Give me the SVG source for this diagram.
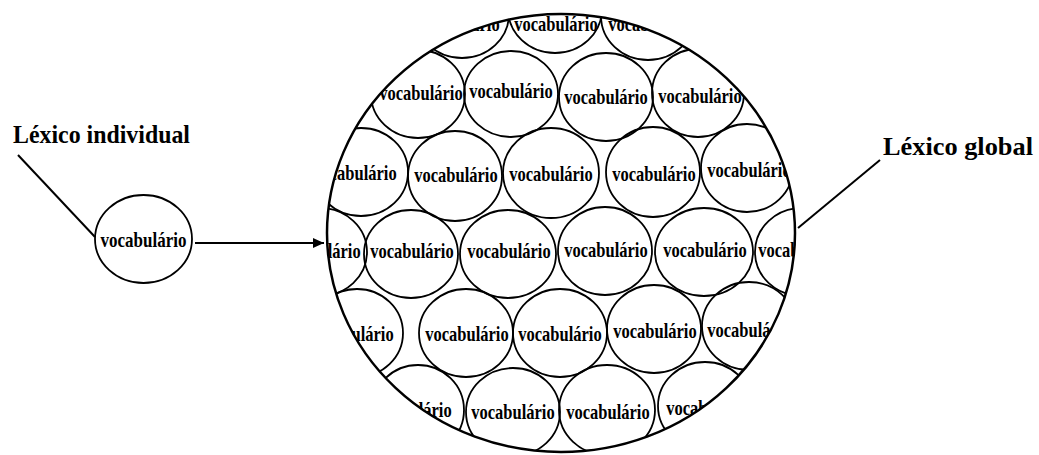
<svg xmlns="http://www.w3.org/2000/svg" width="1039" height="455" viewBox="0 0 1039 455">
<style>
.c{fill:none;stroke:#000;stroke-width:1.8}
.t{font-family:"Liberation Serif","Times New Roman",serif;font-weight:bold;font-size:16.5px;fill:#000;text-anchor:middle}
.lbl{font-family:"Liberation Serif","Times New Roman",serif;font-weight:bold;fill:#000}
.ln{stroke:#000;stroke-width:2;fill:none}
</style>
<defs>
<clipPath id="big"><ellipse cx="561" cy="233" rx="234" ry="219"/></clipPath>
<marker id="ah" markerWidth="12" markerHeight="10" refX="11" refY="5" orient="auto" markerUnits="userSpaceOnUse"><path d="M0,0 L11,5 L0,10 Z" fill="#000"/></marker>
</defs>
<rect width="1039" height="455" fill="#fff"/>

<g id="label-individual"><text class="lbl" x="13" y="143" font-size="25" textLength="177" lengthAdjust="spacingAndGlyphs">Léxico individual</text></g>
<g id="label-global"><text class="lbl" x="883" y="155" font-size="26" textLength="150" lengthAdjust="spacingAndGlyphs">Léxico global</text></g>

<g id="node-individual">
<ellipse class="c" cx="143.5" cy="239" rx="48.5" ry="44"/>
<text class="t" transform="translate(143.5,247) scale(1.03,1.27)">vocabulário</text>
</g>

<g id="node-global">
<g clip-path="url(#big)">
<g id="r1c1"><ellipse class="c" cx="462" cy="14" rx="47" ry="44"/><text class="t" transform="translate(458,31) scale(1,1.27)">vocabulário</text></g>
<g id="r1c2"><ellipse class="c" cx="555" cy="9" rx="47" ry="44"/><text class="t" transform="translate(556,31) scale(1,1.27)">vocabulário</text></g>
<g id="r1c3"><ellipse class="c" cx="648" cy="16" rx="47" ry="44"/><text class="t" transform="translate(650,31) scale(1,1.27)">vocabulário</text></g>

<g id="r2c1"><ellipse class="c" cx="418" cy="94" rx="47" ry="44"/><text class="t" transform="translate(421,100) scale(1,1.27)">vocabulário</text></g>
<g id="r2c2"><ellipse class="c" cx="511" cy="94" rx="47" ry="43"/><text class="t" transform="translate(511,98) scale(1,1.27)">vocabulário</text></g>
<g id="r2c3"><ellipse class="c" cx="606" cy="97" rx="47" ry="44"/><text class="t" transform="translate(606,104) scale(1,1.27)">vocabulário</text></g>
<g id="r2c4"><ellipse class="c" cx="698" cy="93" rx="46" ry="44"/><text class="t" transform="translate(700,103) scale(1,1.27)">vocabulário</text></g>

<g id="r3c1"><ellipse class="c" cx="361" cy="172" rx="47" ry="44"/><text class="t" transform="translate(355,180) scale(1,1.27)">vocabulário</text></g>
<g id="r3c2"><ellipse class="c" cx="455" cy="176" rx="47" ry="45"/><text class="t" transform="translate(456,182) scale(1,1.27)">vocabulário</text></g>
<g id="r3c3"><ellipse class="c" cx="551" cy="173" rx="48" ry="45"/><text class="t" transform="translate(551,181) scale(1,1.27)">vocabulário</text></g>
<g id="r3c4"><ellipse class="c" cx="653" cy="172" rx="47" ry="45"/><text class="t" transform="translate(654,181) scale(1,1.27)">vocabulário</text></g>
<g id="r3c5"><ellipse class="c" cx="747" cy="168" rx="46" ry="44"/><text class="t" transform="translate(749,177) scale(1,1.27)">vocabulário</text></g>

<g id="r4c1"><ellipse class="c" cx="320" cy="252" rx="47" ry="44"/><text class="t" transform="translate(319,258) scale(1,1.27)">vocabulário</text></g>
<g id="r4c2"><ellipse class="c" cx="411" cy="254" rx="47" ry="44"/><text class="t" transform="translate(412,258) scale(1,1.27)">vocabulário</text></g>
<g id="r4c3"><ellipse class="c" cx="508" cy="254" rx="48" ry="44"/><text class="t" transform="translate(509,258) scale(1,1.27)">vocabulário</text></g>
<g id="r4c4"><ellipse class="c" cx="605" cy="251" rx="47" ry="44"/><text class="t" transform="translate(606,257) scale(1,1.27)">vocabulário</text></g>
<g id="r4c5"><ellipse class="c" cx="704" cy="252" rx="49" ry="44"/><text class="t" transform="translate(705,257) scale(1,1.27)">vocabulário</text></g>
<g id="r4c6"><ellipse class="c" cx="802" cy="252" rx="47" ry="44"/><text class="t" transform="translate(800,257) scale(1,1.27)">vocabulário</text></g>

<g id="r5c1"><ellipse class="c" cx="357" cy="333" rx="46" ry="44"/><text class="t" transform="translate(352,341) scale(1,1.27)">vocabulário</text></g>
<g id="r5c2"><ellipse class="c" cx="466" cy="333" rx="47" ry="44"/><text class="t" transform="translate(467,341) scale(1,1.27)">vocabulário</text></g>
<g id="r5c3"><ellipse class="c" cx="560" cy="333" rx="47" ry="44"/><text class="t" transform="translate(560,341) scale(1,1.27)">vocabulário</text></g>
<g id="r5c4"><ellipse class="c" cx="654" cy="329" rx="47" ry="44"/><text class="t" transform="translate(655,338) scale(1,1.27)">vocabulário</text></g>
<g id="r5c5"><ellipse class="c" cx="749" cy="326" rx="47" ry="44"/><text class="t" transform="translate(749,337) scale(1,1.27)">vocabulário</text></g>

<g id="r6c1"><ellipse class="c" cx="418" cy="410" rx="46" ry="45"/><text class="t" transform="translate(410,417) scale(1,1.27)">vocabulário</text></g>
<g id="r6c2"><ellipse class="c" cx="513" cy="412" rx="47" ry="44"/><text class="t" transform="translate(513,419) scale(1,1.27)">vocabulário</text></g>
<g id="r6c3"><ellipse class="c" cx="607" cy="410" rx="48" ry="45"/><text class="t" transform="translate(608,419) scale(1,1.27)">vocabulário</text></g>
<g id="r6c4"><ellipse class="c" cx="705" cy="406" rx="47" ry="44"/><text class="t" transform="translate(708,415) scale(1,1.27)">vocabulário</text></g>
</g>
<ellipse cx="561" cy="233" rx="234" ry="219" fill="none" stroke="#000" stroke-width="2.5"/>
</g>

<g id="connectors">
<line class="ln" x1="18" y1="155" x2="95" y2="237"/>
<line class="ln" x1="880" y1="160" x2="798" y2="228"/>
<line class="ln" x1="195" y1="243" x2="324" y2="243" marker-end="url(#ah)"/>
</g>
</svg>
